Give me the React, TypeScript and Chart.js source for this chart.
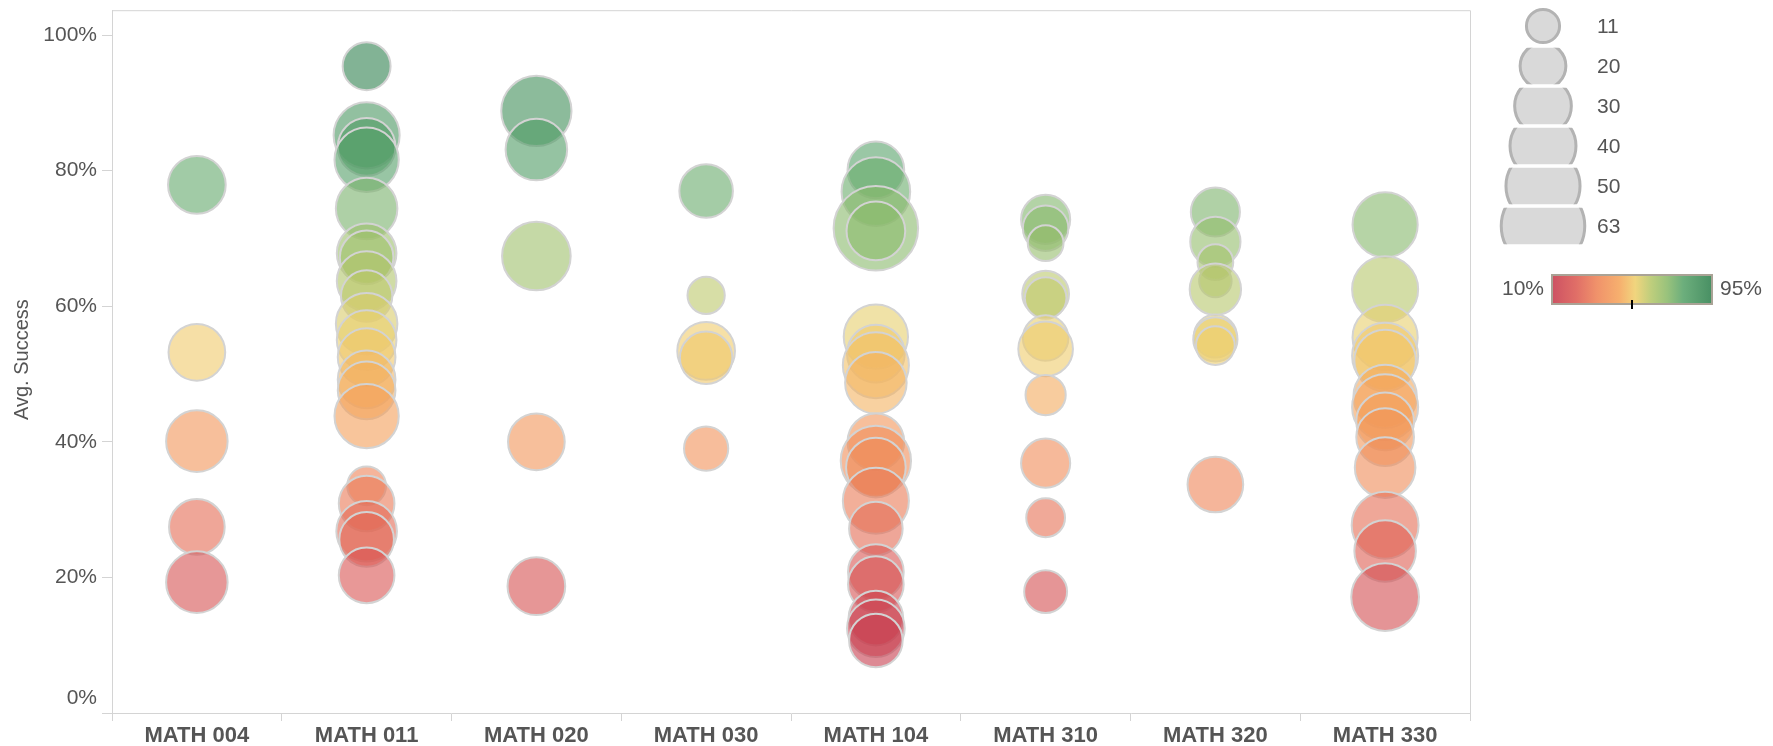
import React, { useEffect, useRef } from 'react';
import { Chart, registerables } from 'chart.js';

Chart.register(...registerables);

// ---------- data ----------
const courses = ['MATH 004', 'MATH 011', 'MATH 020', 'MATH 030', 'MATH 104', 'MATH 310', 'MATH 320', 'MATH 330'];

const success004 = [0.779, 0.532, 0.401, 0.2745, 0.193];
const count004 = [30, 29, 34, 28, 34];

const success011 = [0.954, 0.852, 0.835, 0.816, 0.744, 0.678, 0.672, 0.637, 0.615, 0.574, 0.55, 0.525, 0.492, 0.476, 0.438, 0.335, 0.309, 0.268, 0.256, 0.203];
const count011 = [21, 39, 30, 37, 34, 32, 26, 32, 24, 34, 32, 30, 30, 30, 37, 14, 28, 33, 27, 28];

const success020 = [0.888, 0.831, 0.674, 0.40, 0.187];
const count020 = [44, 34, 42, 29, 30];

const success030 = [0.77, 0.616, 0.534, 0.524, 0.39];
const count030 = [26, 13, 30, 25, 18];

const success104 = [0.801, 0.769, 0.715, 0.711, 0.555, 0.53, 0.513, 0.487, 0.40, 0.372, 0.362, 0.313, 0.272, 0.208, 0.19, 0.14, 0.125, 0.107];
const count104 = [29, 42, 63, 31, 37, 30, 39, 34, 29, 44, 32, 39, 26, 28, 28, 27, 30, 26];

const success310 = [0.728, 0.715, 0.693, 0.618, 0.612, 0.553, 0.537, 0.469, 0.3685, 0.288, 0.179];
const count310 = [22, 19, 12, 20, 16, 19, 27, 15, 22, 14, 17];

const success320 = [0.739, 0.695, 0.665, 0.637, 0.625, 0.556, 0.551, 0.542, 0.337];
const count320 = [22, 23, 12, 10, 24, 17, 18, 14, 28];

const success330 = [0.72, 0.625, 0.554, 0.527, 0.52, 0.467, 0.451, 0.43, 0.407, 0.362, 0.277, 0.239, 0.171];
const count330 = [38, 39, 38, 39, 34, 36, 39, 30, 30, 33, 40, 34, 41];

const yTicks = [0, 0.2, 0.4, 0.6, 0.8, 1.0];
const sizeLegendCounts = [11, 20, 30, 40, 50, 63];
const colorDomain = [0.10, 0.95];

const successByCourse = [success004, success011, success020, success030, success104, success310, success320, success330];
const countByCourse = [count004, count011, count020, count030, count104, count310, count320, count330];

// ---------- styles ----------
const FONT = '"Liberation Sans", Arial, Helvetica, sans-serif';
const TEXT = '#555555';
const AXIS = '#d4d4d4';

const colorStops: [number, string][] = [
  [0.0, '#c63a4d'],
  [0.15, '#dc5a52'],
  [0.28, '#ee8356'],
  [0.42, '#f5a45a'],
  [0.52, '#efcf6c'],
  [0.62, '#b5c76a'],
  [0.72, '#8bba6a'],
  [0.82, '#58a36a'],
  [1.0, '#2f804e'],
];

function hexToRgb(h: string) {
  const n = parseInt(h.slice(1), 16);
  return [(n >> 16) & 255, (n >> 8) & 255, n & 255];
}

function colorFor(v: number, alpha: number) {
  let t = (v - colorDomain[0]) / (colorDomain[1] - colorDomain[0]);
  t = Math.max(0, Math.min(1, t));
  for (let i = 0; i < colorStops.length - 1; i++) {
    const [t0, c0] = colorStops[i];
    const [t1, c1] = colorStops[i + 1];
    if (t <= t1) {
      const f = (t - t0) / (t1 - t0);
      const a = hexToRgb(c0);
      const b = hexToRgb(c1);
      const c = a.map((x, k) => Math.round(x + (b[k] - x) * f));
      return `rgba(${c[0]},${c[1]},${c[2]},${alpha})`;
    }
  }
  const c = hexToRgb(colorStops[colorStops.length - 1][1]);
  return `rgba(${c[0]},${c[1]},${c[2]},${alpha})`;
}

// outer radius in px for a count
const outerRadius = (n: number) => 5.45 * Math.sqrt(n);

const overlay = {
  id: 'overlay',
  beforeDatasetsDraw(chart: any) {
    const { ctx, chartArea: a } = chart;
    ctx.save();
    ctx.strokeStyle = AXIS;
    ctx.lineWidth = 1;
    ctx.beginPath();
    ctx.moveTo(a.left, a.top + 0.5);
    ctx.lineTo(a.right + 0.5, a.top + 0.5);
    ctx.lineTo(a.right + 0.5, a.bottom);
    ctx.stroke();
    ctx.restore();
  },
  afterDraw(chart: any) {
    const { ctx, chartArea: a } = chart;
    const yScale = chart.scales.y;
    ctx.save();
    // y tick labels
    ctx.fillStyle = TEXT;
    ctx.font = `21px ${FONT}`;
    ctx.textAlign = 'right';
    ctx.textBaseline = 'middle';
    yTicks.forEach((v) => {
      let y = yScale.getPixelForValue(v);
      y = Math.min(y, a.bottom - 15);
      ctx.fillText(Math.round(v * 100) + '%', a.left - 15, y);
    });
    // y title
    ctx.save();
    ctx.translate(22, (a.top + a.bottom) / 2 - 2);
    ctx.rotate(-Math.PI / 2);
    ctx.textAlign = 'center';
    ctx.font = `20px ${FONT}`;
    ctx.fillText('Avg. Success', 0, 0);
    ctx.restore();

    // size legend
    const lx = 1543;
    sizeLegendCounts.forEach((n, i) => {
      const cy = 26 + 40 * i;
      ctx.save();
      ctx.beginPath();
      ctx.rect(lx - 60, cy - 18.3, 120, 36.6);
      ctx.clip();
      ctx.beginPath();
      ctx.arc(lx, cy, outerRadius(n) - 1.5, 0, Math.PI * 2);
      ctx.fillStyle = '#d9d9d9';
      ctx.fill();
      ctx.strokeStyle = '#b3b3b3';
      ctx.lineWidth = 3;
      ctx.stroke();
      ctx.restore();
      ctx.fillStyle = TEXT;
      ctx.font = `21px ${FONT}`;
      ctx.textAlign = 'left';
      ctx.textBaseline = 'middle';
      ctx.fillText(String(n), 1597, cy + 1);
    });

    // color legend
    const bx0 = 1552, bx1 = 1712, by0 = 275, by1 = 304;
    const grad = ctx.createLinearGradient(bx0, 0, bx1, 0);
    colorStops.forEach(([t, c]) => {
      const rgb = hexToRgb(c);
      grad.addColorStop(t, `rgba(${rgb[0]},${rgb[1]},${rgb[2]},0.88)`);
    });
    ctx.fillStyle = '#ffffff';
    ctx.fillRect(bx0, by0, bx1 - bx0, by1 - by0);
    ctx.fillStyle = grad;
    ctx.fillRect(bx0, by0, bx1 - bx0, by1 - by0);
    ctx.strokeStyle = '#aaa396';
    ctx.lineWidth = 2;
    ctx.strokeRect(bx0, by0, bx1 - bx0, by1 - by0);
    ctx.fillStyle = '#000000';
    ctx.fillRect((bx0 + bx1) / 2 - 1, by1 - 4, 2, 9);
    ctx.fillStyle = TEXT;
    ctx.font = `21px ${FONT}`;
    ctx.textBaseline = 'middle';
    ctx.textAlign = 'right';
    ctx.fillText(Math.round(colorDomain[0] * 100) + '%', 1544, 289);
    ctx.textAlign = 'left';
    ctx.fillText(Math.round(colorDomain[1] * 100) + '%', 1720, 289);
    ctx.restore();
  },
};

export default function App() {
  const canvasRef = useRef<HTMLCanvasElement | null>(null);

  useEffect(() => {
    document.body.style.margin = '0';
    const canvas = canvasRef.current;
    if (!canvas) return;

    const datasets = courses.map((course, ci) => {
      const vals = successByCourse[ci];
      const cnts = countByCourse[ci];
      return {
        label: course,
        data: vals.map((v, i) => ({ x: course, y: v, r: outerRadius(cnts[i]) - 1 })),
        backgroundColor: vals.map((v) => colorFor(v, 0.6)),
        borderColor: '#d3d3d3',
        borderWidth: 2,
      };
    });

    const chart = new Chart(canvas, {
      type: 'bubble',
      data: { datasets } as any,
      plugins: [overlay],
      options: {
        animation: false,
        responsive: false,
        devicePixelRatio: 1,
        events: [],
        layout: { autoPadding: false, padding: { left: 0, top: 5, right: 303, bottom: 0 } },
        plugins: {
          legend: { display: false },
          tooltip: { enabled: false },
        },
        scales: {
          x: {
            type: 'category',
            labels: courses,
            offset: true,
            grid: {
              display: true,
              drawOnChartArea: false,
              drawTicks: true,
              tickLength: 8,
              offset: true,
              color: AXIS,
            },
            border: { display: true, color: AXIS, width: 1 },
            ticks: {
              color: TEXT,
              font: { family: FONT, size: 22, weight: 'bold' },
              padding: 2,
              maxRotation: 0,
              autoSkip: false,
            },
            afterFit: (s: any) => {
              s.height = 33;
            },
          },
          y: {
            type: 'linear',
            min: 0,
            max: 1.0366,
            afterBuildTicks: (s: any) => {
              s.ticks = yTicks.map((v) => ({ value: v }));
            },
            grid: {
              display: true,
              drawOnChartArea: false,
              drawTicks: true,
              tickLength: 10,
              color: AXIS,
            },
            border: { display: true, color: AXIS, width: 1 },
            ticks: {
              callback: () => '',
            },
            afterFit: (s: any) => {
              s.width = 112;
            },
          },
        },
      } as any,
    });

    return () => chart.destroy();
  }, []);

  return (
    <div style={{ width: 1773, height: 746 }}>
      <canvas ref={canvasRef} width={1773} height={746} style={{ display: 'block' }} />
    </div>
  );
}
